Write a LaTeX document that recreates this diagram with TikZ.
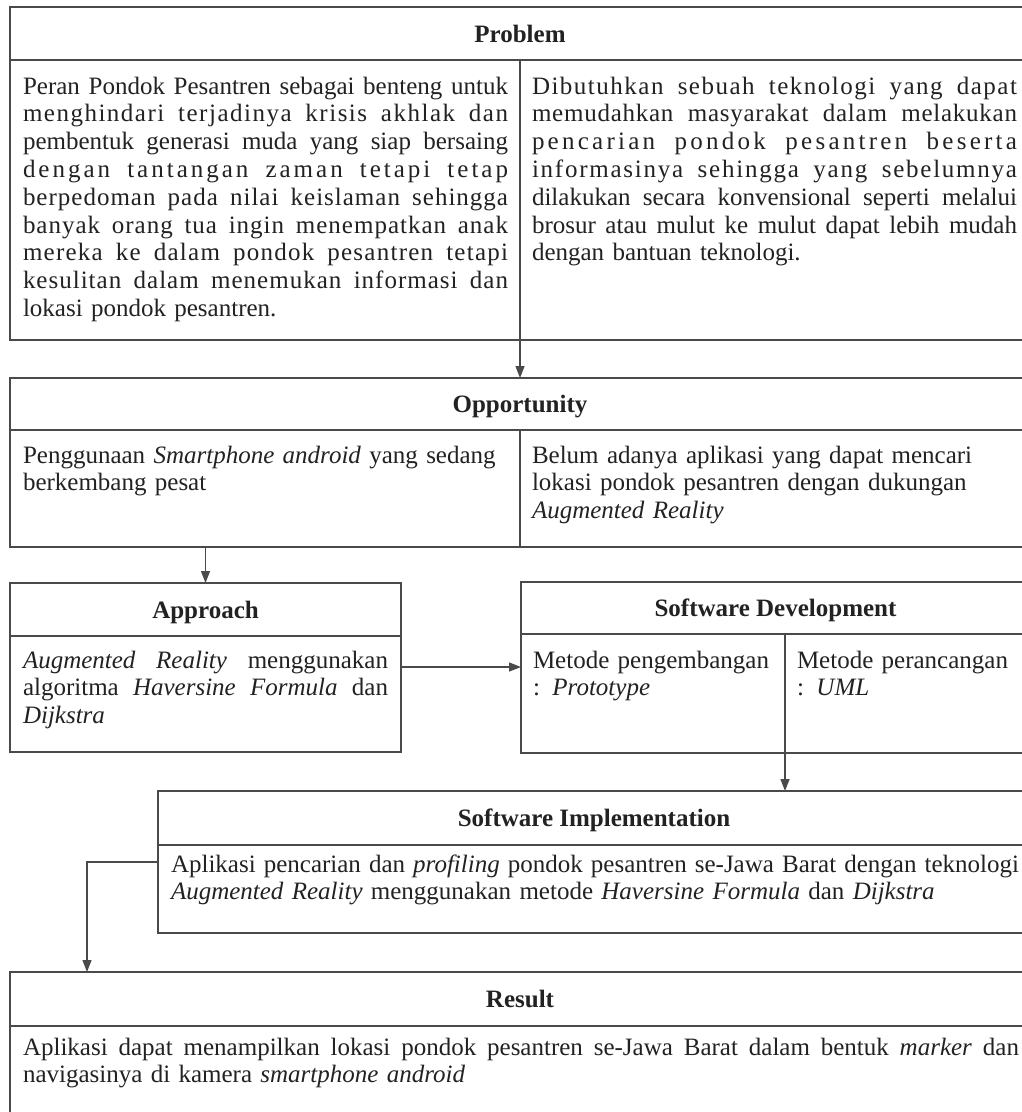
\documentclass[tikz,border=0pt]{standalone}
\usepackage{fontspec}
\setmainfont{Liberation Serif}
\usetikzlibrary{arrows.meta}
\definecolor{ink}{HTML}{222222}
\definecolor{edge}{HTML}{4A4A4A}
\newcommand\fst{\rule{0pt}{20bp}}
\newcommand\J[1]{\makebox[\hsize][s]{\spaceskip=0pt\xspaceskip=0pt\relax #1}}
\newcommand\JL[2]{\makebox[\hsize][s]{\addfontfeature{LetterSpace=#1}\spaceskip=0pt\xspaceskip=0pt\relax #2}}
\begin{document}
\begin{tikzpicture}[x=1bp,y=-1bp,
  cellbox/.style={draw=edge, line width=1.3bp, inner sep=0pt, outer sep=0pt, anchor=north west},
  headbox/.style={cellbox, font=\fontsize{25bp}{27.8bp}\selectfont\bfseries, text=ink, text height=17bp, text depth=0pt},
  txt/.style={inner sep=0pt, outer sep=0pt, anchor=north west, text=ink, align=left, text width=#1, font=\fontsize{25bp}{27.8bp}\selectfont},
  conn/.style={draw=edge, line width=1.3bp, -{Triangle[length=12bp,width=9bp]}}
]
\useasboundingbox (0,0) rectangle (1022,1112);
\fill[white] (0,0) rectangle (1022,1112);
\clip (0,0) rectangle (1022,1112);

% cells
\node[headbox, minimum width=1020bp, minimum height=53bp] (probHead) at (10,7) {Problem};
\node[cellbox, minimum width=510bp, minimum height=280bp] (probLeft) at (10,60) {};
\node[cellbox, minimum width=510bp, minimum height=280bp] (probRight) at (520,60) {};
\node[headbox, minimum width=1020bp, minimum height=52bp] (oppHead) at (10,378) {Opportunity};
\node[cellbox, minimum width=510bp, minimum height=117bp] (oppLeft) at (10,430) {};
\node[cellbox, minimum width=510bp, minimum height=117bp] (oppRight) at (520,430) {};
\node[headbox, minimum width=391bp, minimum height=53bp] (appHead) at (10,583) {Approach};
\node[cellbox, minimum width=391bp, minimum height=116bp] (appBody) at (10,636) {};
\node[headbox, minimum width=509bp, minimum height=52bp] (sdHead) at (521,582) {Software Development};
\node[cellbox, minimum width=264bp, minimum height=119bp] (sdLeft) at (521,634) {};
\node[cellbox, minimum width=245bp, minimum height=119bp] (sdRight) at (785,634) {};
\node[headbox, minimum width=872bp, minimum height=54bp] (siHead) at (158,791) {Software Implementation};
\node[cellbox, minimum width=872bp, minimum height=88bp] (siBody) at (158,845) {};
\node[headbox, minimum width=1020bp, minimum height=54bp] (resHead) at (10,972) {Result};
\node[cellbox, minimum width=1020bp, minimum height=110bp] (resBody) at (10,1026) {};

% texts
\node[txt=485bp] (probLeftT) at (23,74) {\fst\J{Peran Pondok Pesantren sebagai benteng untuk}\\
\JL{6}{menghindari terjadinya krisis akhlak dan}\\
\J{pembentuk generasi muda yang siap bersaing}\\
\JL{12}{dengan tantangan zaman tetapi tetap}\\
\JL{4}{berpedoman pada nilai keislaman sehingga}\\
\JL{4}{banyak orang tua ingin menempatkan anak}\\
\JL{5}{mereka ke dalam pondok pesantren tetapi}\\
\JL{4}{kesulitan dalam menemukan informasi dan}\\
lokasi pondok pesantren.};
\node[txt=485bp] (probRightT) at (532,74) {\fst\JL{6}{Dibutuhkan sebuah teknologi yang dapat}\\
\JL{3}{memudahkan masyarakat dalam melakukan}\\
\JL{13}{pencarian pondok pesantren beserta}\\
\JL{7}{informasinya sehingga yang sebelumnya}\\
\J{dilakukan secara konvensional seperti melalui}\\
\J{brosur atau mulut ke mulut dapat lebih mudah}\\
dengan bantuan teknologi.};
\node[txt=480bp] (oppLeftT) at (23,443) {\fst Penggunaan \textit{Smartphone android} yang sedang\\
berkembang pesat};
\node[txt=480bp] (oppRightT) at (532,443) {\fst Belum adanya aplikasi yang dapat mencari\\
lokasi pondok pesantren dengan dukungan\\
\textit{Augmented Reality}};
\node[txt=365bp] (appT) at (23,648) {\fst\J{\textit{Augmented Reality} menggunakan}\\
\J{algoritma \textit{Haversine Formula} dan}\\
\textit{Dijkstra}};
\node[txt=240bp] (sdLeftT) at (533,648) {\fst Metode pengembangan\\
: \textit{Prototype}};
\node[txt=225bp] (sdRightT) at (797,648) {\fst Metode perancangan\\
: \textit{UML}};
\node[txt=848bp] (siT) at (171,852) {\fst\J{Aplikasi pencarian dan \textit{profiling} pondok pesantren se-Jawa Barat dengan teknologi}\\
\textit{Augmented Reality} menggunakan metode \textit{Haversine Formula} dan \textit{Dijkstra}};
\node[txt=996bp] (resT) at (23,1035) {\fst\J{Aplikasi dapat menampilkan lokasi pondok pesantren se-Jawa Barat dalam bentuk \textit{marker} dan}\\
navigasinya di kamera \textit{smartphone android}};

% connectors
\coordinate (resIn) at (87,972);
\draw[conn] (probLeft.north east) -- (probLeft.north east |- oppHead.north);
\draw[conn] (appHead.north |- oppLeft.south) -- (appHead.north);
\draw[conn] ([yshift=27bp]appBody.east) -- ([yshift=27bp]appBody.east -| sdLeft.west);
\draw[conn] (sdLeft.north east) -- (sdLeft.north east |- siHead.north);
\draw[conn] ([yshift=27bp]siBody.west) -| (resIn);
\end{tikzpicture}
\end{document}
